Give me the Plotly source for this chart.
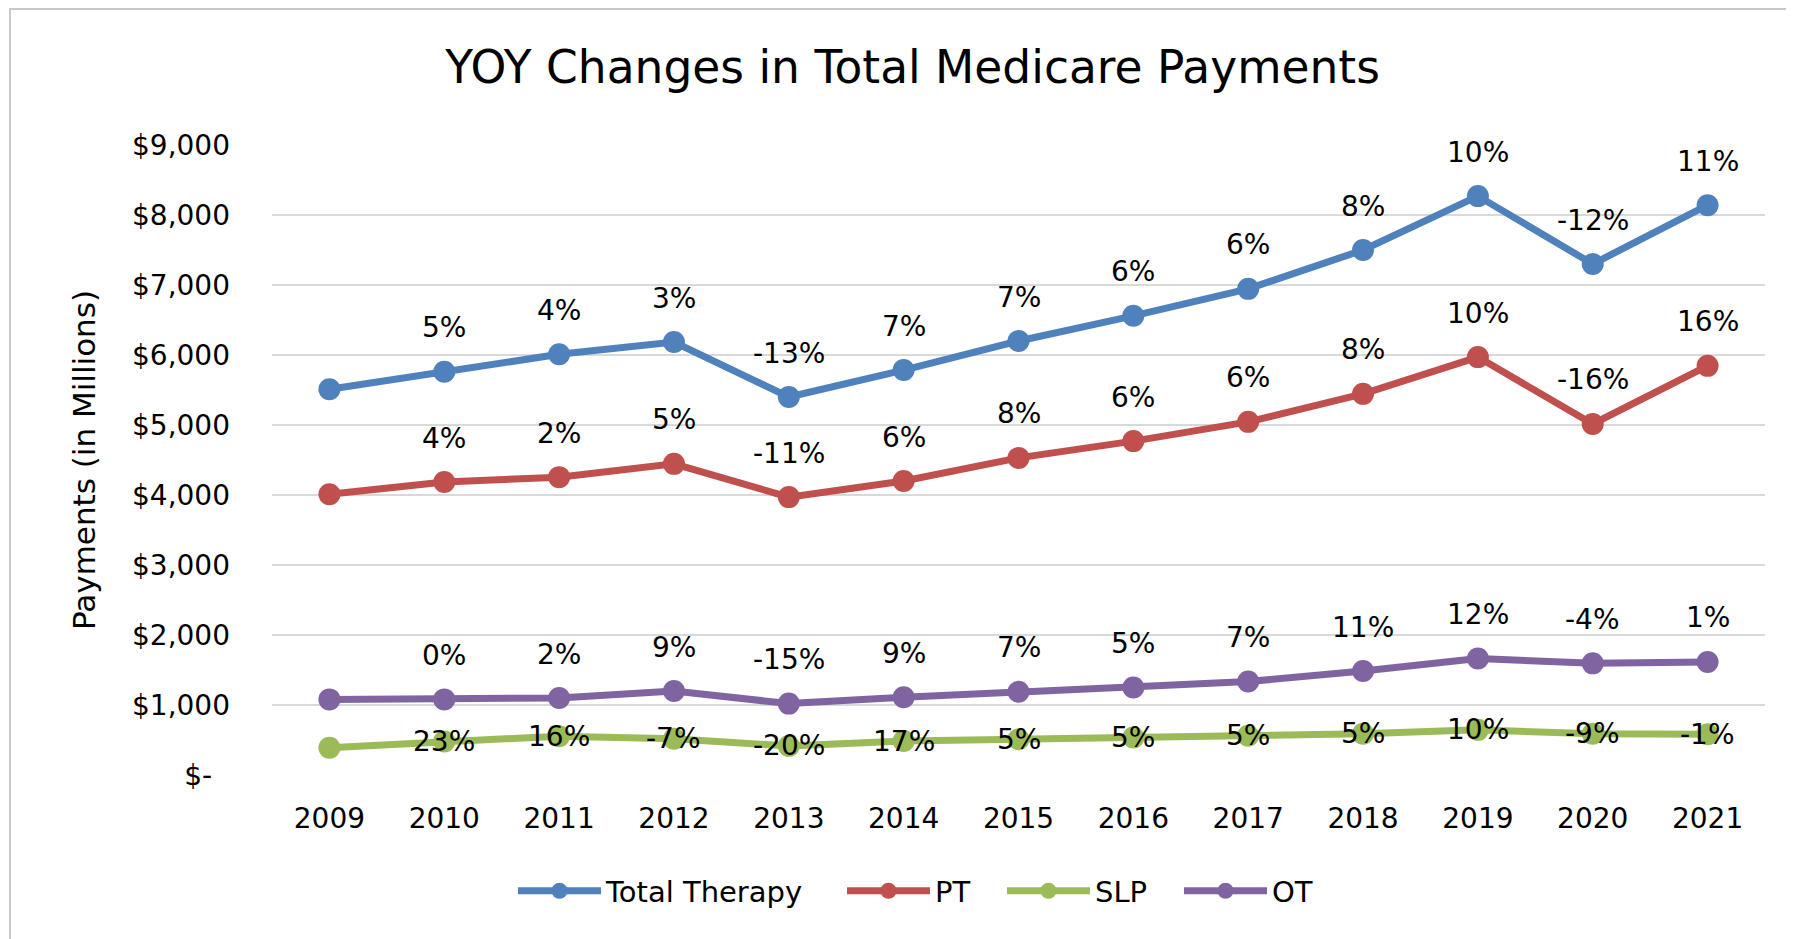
import plotly.graph_objects as go

years = ["2009", "2010", "2011", "2012", "2013", "2014", "2015", "2016", "2017", "2018", "2019", "2020", "2021"]

total_therapy = [5510, 5760, 6010, 6185, 5400, 5785, 6200, 6560, 6945, 7500, 8270, 7300, 8140]
pt = [4010, 4185, 4255, 4445, 3970, 4200, 4530, 4770, 5045, 5445, 5970, 5015, 5845]
slp = [390, 480, 555, 518, 415, 485, 510, 535, 560, 590, 645, 588, 582]
ot = [1080, 1080, 1100, 1200, 1020, 1110, 1190, 1250, 1335, 1485, 1665, 1595, 1615]

total_pct = ["", "5%", "4%", "3%", "-13%", "7%", "7%", "6%", "6%", "8%", "10%", "-12%", "11%"]
pt_pct = ["", "4%", "2%", "5%", "-11%", "6%", "8%", "6%", "6%", "8%", "10%", "-16%", "16%"]
slp_pct = ["", "23%", "16%", "-7%", "-20%", "17%", "5%", "5%", "5%", "5%", "10%", "-9%", "-1%"]
ot_pct = ["", "0%", "2%", "9%", "-15%", "9%", "7%", "5%", "7%", "11%", "12%", "-4%", "1%"]

y_ticks = [0, 1000, 2000, 3000, 4000, 5000, 6000, 7000, 8000, 9000]
y_labels = ["$-\u00a0\u00a0", "$1,000", "$2,000", "$3,000", "$4,000", "$5,000", "$6,000", "$7,000", "$8,000", "$9,000"]

font = "DejaVu Sans"

# name, values, labels, colour, label shift, legend entry width
series = [
    ("Total Therapy", total_therapy, total_pct, "#4F81BD", 44, 231),
    ("PT", pt, pt_pct, "#C0504D", 44, 62),
    ("SLP", slp, slp_pct, "#9BBB59", 0, 79),
    ("OT", ot, ot_pct, "#8064A2", 44, 41),
]

fig = go.Figure()
for name, vals, pcts, color, shift, lw in series:
    fig.add_trace(go.Scatter(x=years, y=vals, name=name, mode="lines+markers",
                             line=dict(color=color, width=7),
                             marker=dict(color=color, size=22, symbol="circle"),
                             legendwidth=lw))
    # category axis: annotations take the category index
    for i, (v, p) in enumerate(zip(vals, pcts)):
        if p:
            fig.add_annotation(x=i, y=v, text=p, showarrow=False, yshift=shift,
                               font=dict(family=font, size=28, color="black"))

# chart border like the excel chart area
fig.add_shape(type="rect", xref="paper", yref="paper", x0=-0.1755, x1=1.1, y0=-0.3, y1=1.2159,
              line=dict(color="#C8C8C8", width=2), layer="below")

fig.update_layout(
    width=1794, height=939,
    margin=dict(l=264, r=37, t=137, b=172),
    paper_bgcolor="white", plot_bgcolor="white",
    font=dict(family=font, size=28, color="black"),
    title=dict(text="YOY Changes in Total Medicare Payments", x=0.5042, xref="container",
               xanchor="center", y=1 - 59 / 939, yref="container", yanchor="middle",
               font=dict(family=font, size=45.5, color="black")),
    legend=dict(orientation="h", x=0.431, xanchor="center", y=-0.184, yanchor="middle",
                font=dict(family=font, size=29, color="black"), itemwidth=83,
                bgcolor="rgba(0,0,0,0)"),
    showlegend=True,
)
fig.update_xaxes(type="category", range=[-0.5, len(years) - 0.5], showgrid=False, showline=False,
                 zeroline=False, ticks="", ticklabelstandoff=24, tickfont=dict(family=font, size=28))
fig.update_yaxes(range=[0, 9000], tickvals=y_ticks, ticktext=y_labels, showgrid=True,
                 gridcolor="#D9D9D9", gridwidth=2, zeroline=False, showline=False,
                 ticks="", ticklabelstandoff=41, tickfont=dict(family=font, size=28),
                 title=dict(text="Payments (in Millions)", standoff=27,
                            font=dict(family=font, size=31)))

fig.write_html("out.html")
